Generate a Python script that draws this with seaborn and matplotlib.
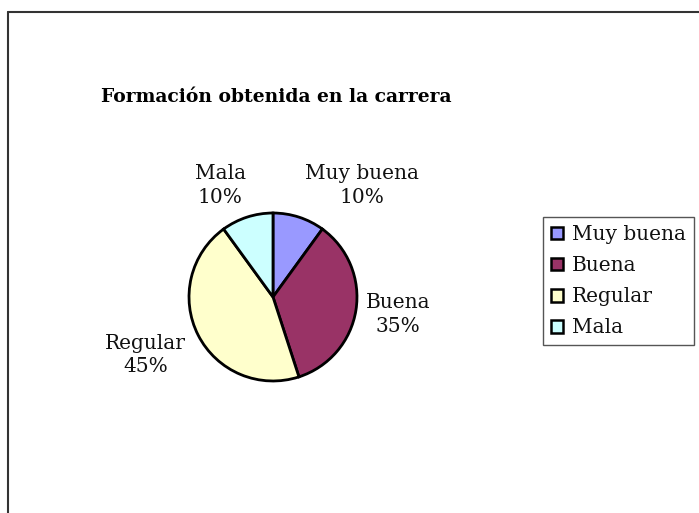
import matplotlib
matplotlib.use("Agg")
import matplotlib.pyplot as plt
import seaborn as sns
from matplotlib.lines import Line2D

categories = ["Muy buena", "Buena", "Regular", "Mala"]
values = [10, 35, 45, 10]
colors = ["#9999FF", "#993366", "#FFFFCC", "#CCFFFF"]

# where the data labels sit, in pie-radius units
label_pos = [(1.06, 1.33), (1.49, -0.21), (-1.52, -0.69), (-0.63, 1.33)]

sns.set_theme(style="white")
plt.rcParams["font.family"] = ["DejaVu Serif"]

fig = plt.figure(figsize=(6.99, 5.13), dpi=100)
ax = fig.add_axes([0.2704, 0.2573, 0.2403, 0.3275])

wedges, texts = ax.pie(
    values,
    labels=[f"{c}\n{v}%" for c, v in zip(categories, values)],
    colors=colors,
    startangle=90,
    counterclock=False,
    wedgeprops=dict(edgecolor="black", linewidth=2.0),
    textprops=dict(fontsize=14.5, color="#111111", linespacing=1.3),
)
for t, (x, y) in zip(texts, label_pos):
    t.set_position((x, y))
    t.set_ha("center")
    t.set_va("center")
ax.set_xlim(-1, 1)
ax.set_ylim(-1, 1)
ax.set_aspect("equal")

fig.text(0.395, 0.81, "Formación obtenida en la carrera",
         ha="center", va="center", fontsize=13.5, fontweight="heavy",
         color="#000000")

handles = [plt.Rectangle((0, 0), 1, 1, facecolor=c, edgecolor="black", linewidth=1.8)
           for c in colors]
leg = fig.legend(handles, categories, loc="upper left",
                 bbox_to_anchor=(0.7768, 0.577), borderaxespad=0,
                 fontsize=14.5, handlelength=0.6, handleheight=0.6,
                 handletextpad=0.45, labelspacing=0.6, borderpad=0.4,
                 fancybox=False, framealpha=1)
leg.get_frame().set_edgecolor("#555555")
leg.get_frame().set_linewidth(1.0)
for txt in leg.get_texts():
    txt.set_color("#111111")

# chart area border (top and left visible)
fig.add_artist(Line2D([8 / 699, 1], [1 - 12 / 513, 1 - 12 / 513],
                      transform=fig.transFigure, color="#333333", linewidth=1.5))
fig.add_artist(Line2D([8 / 699, 8 / 699], [0, 1 - 12 / 513],
                      transform=fig.transFigure, color="#333333", linewidth=1.5))

fig.savefig("out.png", dpi=100, facecolor="white")
